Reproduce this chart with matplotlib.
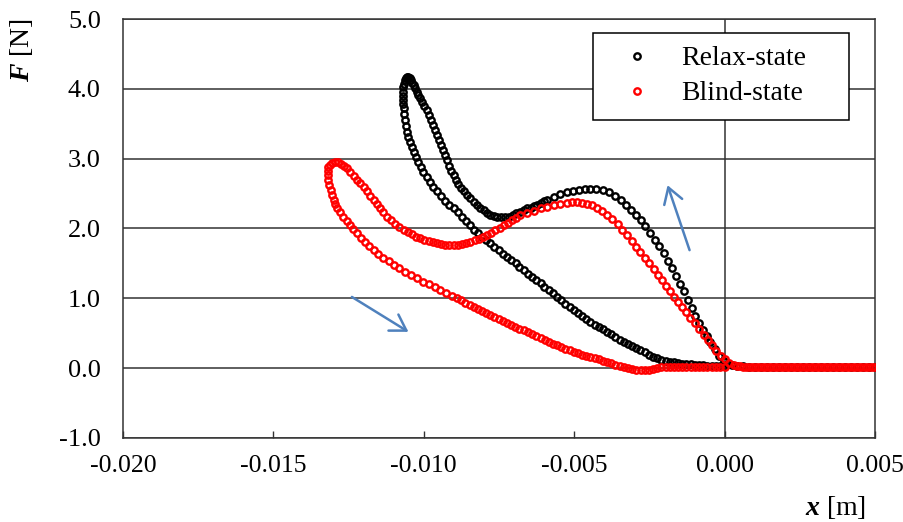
import numpy as np
import matplotlib
matplotlib.use("Agg")
import matplotlib.pyplot as plt
from matplotlib.ticker import FormatStrFormatter

plt.rcParams['font.family'] = ['Liberation Serif', 'DejaVu Serif']
plt.rcParams['axes.unicode_minus'] = False
plt.rcParams['mathtext.fontset'] = 'custom'
plt.rcParams['mathtext.it'] = 'Liberation Serif:italic:bold'
plt.rcParams['mathtext.rm'] = 'Liberation Serif'

# force-displacement loops, x in mm, F in N (path order)
relax_pts = [
    (5.0, 0.02), (4.8, 0.02), (4.6, 0.02), (4.4, 0.02), (4.2, 0.02), (4.0, 0.02),
    (3.8, 0.02), (3.6, 0.02), (3.4, 0.02), (3.2, 0.02), (3.0, 0.02), (2.8, 0.02),
    (2.6, 0.02), (2.4, 0.02), (2.2, 0.02), (2.0, 0.02), (1.8, 0.02), (1.6, 0.02),
    (1.4, 0.02), (1.2, 0.02), (1.0, 0.02), (0.8, 0.02), (0.6, 0.025), (0.4, 0.03),
    (0.25, 0.05), (0.1, 0.065), (-0.03, 0.1), (-0.18, 0.18), (-0.33, 0.27),
    (-0.47, 0.37), (-0.60, 0.46), (-0.73, 0.55), (-0.86, 0.65), (-0.98, 0.75),
    (-1.10, 0.86), (-1.22, 0.98), (-1.35, 1.10), (-1.48, 1.21), (-1.61, 1.32),
    (-1.75, 1.43), (-1.89, 1.54), (-2.03, 1.65), (-2.18, 1.75), (-2.33, 1.84),
    (-2.48, 1.94), (-2.63, 2.03), (-2.78, 2.12), (-2.94, 2.20), (-3.10, 2.27),
    (-3.27, 2.34), (-3.45, 2.41), (-3.64, 2.47), (-3.84, 2.52), (-4.05, 2.55),
    (-4.26, 2.56), (-4.46, 2.565), (-4.65, 2.56), (-4.85, 2.55),
    (-5.04, 2.535), (-5.24, 2.52), (-5.46, 2.49), (-5.68, 2.45), (-5.90, 2.41),
    (-6.00, 2.39), (-6.12, 2.36), (-6.23, 2.34), (-6.34, 2.32), (-6.45, 2.30),
    (-6.57, 2.29), (-6.68, 2.265), (-6.80, 2.24), (-6.92, 2.215), (-7.05, 2.19),
    (-7.17, 2.17), (-7.29, 2.16), (-7.42, 2.16), (-7.55, 2.17), (-7.67, 2.18),
    (-7.79, 2.19), (-7.90, 2.22), (-8.01, 2.26), (-8.12, 2.30), (-8.23, 2.335),
    (-8.34, 2.38), (-8.45, 2.43), (-8.56, 2.48), (-8.68, 2.53), (-8.77, 2.58),
    (-8.85, 2.64), (-8.93, 2.70), (-9.01, 2.765), (-9.08, 2.83), (-9.15, 2.90),
    (-9.22, 2.975), (-9.29, 3.05), (-9.36, 3.12), (-9.42, 3.19), (-9.49, 3.265),
    (-9.56, 3.34), (-9.63, 3.41), (-9.70, 3.48), (-9.77, 3.55), (-9.84, 3.625),
    (-9.91, 3.69), (-9.98, 3.75), (-10.05, 3.81), (-10.12, 3.864), (-10.18, 3.91),
    (-10.23, 3.96), (-10.29, 4.01), (-10.34, 4.054), (-10.39, 4.09), (-10.43, 4.12),
    (-10.47, 4.15), (-10.51, 4.17), (-10.55, 4.17), (-10.59, 4.15), (-10.63, 4.12),
    (-10.66, 4.07), (-10.68, 4.02), (-10.69, 3.96), (-10.70, 3.90), (-10.69, 3.84),
    (-10.68, 3.78), (-10.67, 3.72), (-10.65, 3.64), (-10.63, 3.55), (-10.60, 3.47),
    (-10.56, 3.385), (-10.51, 3.31), (-10.46, 3.24), (-10.40, 3.17), (-10.34, 3.10),
    (-10.26, 3.02), (-10.18, 2.95), (-10.10, 2.88), (-10.01, 2.81), (-9.90, 2.74),
    (-9.79, 2.67), (-9.68, 2.60), (-9.56, 2.53), (-9.43, 2.46), (-9.29, 2.40),
    (-9.15, 2.34), (-9.01, 2.29), (-8.87, 2.23), (-8.73, 2.17), (-8.59, 2.11),
    (-8.45, 2.05), (-8.34, 1.98), (-8.20, 1.93), (-8.06, 1.88), (-7.92, 1.835),
    (-7.79, 1.787), (-7.65, 1.74), (-7.51, 1.69), (-7.37, 1.64), (-7.23, 1.595),
    (-7.09, 1.55), (-6.95, 1.50), (-6.82, 1.45), (-6.68, 1.404), (-6.54, 1.355),
    (-6.40, 1.31), (-6.26, 1.26), (-6.12, 1.213), (-5.99, 1.165), (-5.85, 1.12),
    (-5.71, 1.07), (-5.57, 1.021), (-5.43, 0.975), (-5.29, 0.925), (-5.15, 0.88),
    (-5.02, 0.831), (-4.88, 0.79), (-4.74, 0.745), (-4.60, 0.70), (-4.46, 0.663),
    (-4.32, 0.625), (-4.18, 0.59), (-4.04, 0.555), (-3.90, 0.52), (-3.77, 0.485),
    (-3.63, 0.45), (-3.49, 0.41), (-3.35, 0.377), (-3.21, 0.345), (-3.07, 0.315),
    (-2.93, 0.285), (-2.80, 0.258), (-2.66, 0.225), (-2.52, 0.195), (-2.38, 0.165),
    (-2.24, 0.139), (-2.10, 0.12), (-1.96, 0.105), (-1.82, 0.092), (-1.69, 0.082),
    (-1.55, 0.073), (-1.41, 0.066), (-1.27, 0.061), (-1.13, 0.057), (-0.99, 0.052),
    (-0.85, 0.047), (-0.71, 0.042), (-0.57, 0.037), (-0.43, 0.033), (-0.28, 0.03),
    (-0.14, 0.027), (0.0, 0.025),
]

blind_pts = [
    (5.0, 0.02), (4.9, 0.02), (4.8, 0.02), (4.7, 0.02), (4.6, 0.02), (4.5, 0.02),
    (4.4, 0.02), (4.3, 0.02), (4.2, 0.02), (4.1, 0.02), (4.0, 0.02), (3.9, 0.02),
    (3.8, 0.02), (3.7, 0.02), (3.6, 0.02), (3.5, 0.02), (3.4, 0.02), (3.3, 0.02),
    (3.2, 0.02), (3.1, 0.02), (3.0, 0.02), (2.9, 0.02), (2.8, 0.02), (2.7, 0.02),
    (2.6, 0.02), (2.5, 0.02), (2.4, 0.02), (2.3, 0.02), (2.2, 0.02), (2.1, 0.02),
    (2.0, 0.02), (1.9, 0.02), (1.8, 0.02), (1.7, 0.02), (1.6, 0.02), (1.5, 0.02),
    (1.4, 0.02), (1.3, 0.02), (1.2, 0.02), (1.1, 0.02), (1.0, 0.02), (0.9, 0.02),
    (0.8, 0.02), (0.7, 0.02), (0.6, 0.02), (0.5, 0.025), (0.4, 0.03), (0.3, 0.04),
    (0.15, 0.08), (0.0, 0.13), (-0.13, 0.17), (-0.27, 0.25), (-0.41, 0.33),
    (-0.55, 0.41), (-0.70, 0.48), (-0.85, 0.56), (-1.00, 0.64), (-1.14, 0.72),
    (-1.28, 0.80), (-1.42, 0.88), (-1.55, 0.95), (-1.68, 1.02), (-1.81, 1.10),
    (-1.94, 1.18), (-2.08, 1.26), (-2.22, 1.34), (-2.36, 1.42), (-2.51, 1.50),
    (-2.65, 1.58), (-2.80, 1.66), (-2.94, 1.74), (-3.09, 1.82), (-3.24, 1.90),
    (-3.40, 1.98), (-3.56, 2.06), (-3.73, 2.13), (-3.90, 2.19), (-4.07, 2.25),
    (-4.24, 2.30), (-4.41, 2.335), (-4.57, 2.355), (-4.74, 2.37), (-4.90, 2.375),
    (-5.07, 2.375), (-5.24, 2.37), (-5.46, 2.355), (-5.68, 2.335), (-5.90, 2.31),
    (-6.12, 2.29), (-6.34, 2.25), (-6.57, 2.22), (-6.79, 2.19), (-6.93, 2.155),
    (-7.07, 2.12), (-7.21, 2.085), (-7.34, 2.05), (-7.48, 2.01), (-7.62, 1.975),
    (-7.76, 1.94), (-7.90, 1.905), (-8.04, 1.875), (-8.17, 1.85), (-8.31, 1.83),
    (-8.45, 1.81), (-8.59, 1.795), (-8.73, 1.78), (-8.87, 1.77), (-9.01, 1.762),
    (-9.15, 1.765), (-9.28, 1.77), (-9.42, 1.78), (-9.56, 1.787), (-9.70, 1.80),
    (-9.84, 1.82), (-9.98, 1.84), (-10.12, 1.858), (-10.26, 1.885), (-10.40, 1.915),
    (-10.53, 1.945), (-10.67, 1.977), (-10.81, 2.02), (-10.95, 2.07), (-11.09, 2.12),
    (-11.23, 2.168), (-11.34, 2.23), (-11.45, 2.29), (-11.56, 2.35), (-11.67, 2.407),
    (-11.78, 2.47), (-11.89, 2.53), (-12.00, 2.59), (-12.11, 2.646), (-12.22, 2.70),
    (-12.33, 2.755), (-12.45, 2.81), (-12.56, 2.861), (-12.66, 2.90), (-12.75, 2.93),
    (-12.85, 2.95), (-12.95, 2.956), (-13.05, 2.94), (-13.12, 2.91), (-13.17, 2.88),
    (-13.19, 2.83), (-13.19, 2.76), (-13.17, 2.69), (-13.14, 2.62), (-13.10, 2.55),
    (-13.06, 2.48), (-13.00, 2.41), (-12.94, 2.35), (-12.87, 2.29), (-12.79, 2.23),
    (-12.67, 2.168), (-12.56, 2.11), (-12.45, 2.05), (-12.34, 1.99), (-12.22, 1.93),
    (-12.08, 1.87), (-11.95, 1.81), (-11.81, 1.75), (-11.67, 1.69), (-11.51, 1.64),
    (-11.34, 1.58), (-11.17, 1.53), (-11.00, 1.476), (-10.81, 1.43), (-10.62, 1.38),
    (-10.42, 1.33), (-10.23, 1.285), (-10.03, 1.24), (-9.84, 1.20), (-9.64, 1.16),
    (-9.45, 1.117), (-9.26, 1.075), (-9.07, 1.035), (-8.90, 1.00), (-8.76, 0.97),
    (-8.62, 0.94), (-8.48, 0.91), (-8.34, 0.878), (-8.20, 0.85), (-8.06, 0.82),
    (-7.93, 0.79), (-7.79, 0.759), (-7.65, 0.73), (-7.51, 0.70), (-7.37, 0.67),
    (-7.23, 0.64), (-7.09, 0.615), (-6.96, 0.59), (-6.82, 0.565), (-6.68, 0.544),
    (-6.54, 0.515), (-6.40, 0.485), (-6.26, 0.455), (-6.12, 0.425), (-5.98, 0.40),
    (-5.85, 0.375), (-5.71, 0.35), (-5.57, 0.33), (-5.43, 0.305), (-5.29, 0.28),
    (-5.15, 0.255), (-5.02, 0.234), (-4.88, 0.215), (-4.74, 0.195), (-4.60, 0.18),
    (-4.46, 0.162), (-4.32, 0.145), (-4.18, 0.125), (-4.04, 0.108), (-3.90, 0.09),
    (-3.77, 0.07), (-3.63, 0.05), (-3.49, 0.035), (-3.35, 0.019), (-3.21, 0.005),
    (-3.07, -0.01), (-2.93, -0.025), (-2.79, -0.03), (-2.65, -0.03), (-2.51, -0.025),
    (-2.38, -0.01), (-2.24, 0.0), (-2.10, 0.01), (-1.96, 0.015), (-1.82, 0.018),
    (-1.69, 0.02), (-1.55, 0.02), (-1.41, 0.02), (-1.27, 0.02), (-1.13, 0.02),
    (-0.99, 0.02), (-0.85, 0.02), (-0.71, 0.02), (-0.57, 0.02), (-0.43, 0.02),
    (-0.28, 0.02), (-0.14, 0.02), (0.0, 0.02),
]

series_labels = ['Relax-state', 'Blind-state']
series_colors = ['black', 'red']
x_ticks = [-0.020, -0.015, -0.010, -0.005, 0.000, 0.005]
y_ticks = [-1.0, 0.0, 1.0, 2.0, 3.0, 4.0, 5.0]

relax_x, relax_f = np.array(relax_pts).T
blind_x, blind_f = np.array(blind_pts).T
relax_x = relax_x * 1e-3
blind_x = blind_x * 1e-3

axis_col = '#333333'
arrow_col = '#4f81bd'

fig = plt.figure(figsize=(9.04, 5.22), dpi=100)
ax = fig.add_axes([123 / 904, 1 - 438 / 522, 752 / 904, 419 / 522])

for xs, fs, lab, col in zip([relax_x, blind_x], [relax_f, blind_f], series_labels, series_colors):
    ax.plot(xs, fs, linestyle='none', marker='o', markersize=4.6, markerfacecolor='none',
            markeredgecolor=col, markeredgewidth=1.7, label=lab, zorder=3)

ax.set_xlim(x_ticks[0], x_ticks[-1])
ax.set_ylim(y_ticks[0], y_ticks[-1])
ax.set_xticks(x_ticks)
ax.set_yticks(y_ticks)
ax.xaxis.set_major_formatter(FormatStrFormatter('%.3f'))
ax.yaxis.set_major_formatter(FormatStrFormatter('%.1f'))

ax.set_axisbelow(True)
ax.yaxis.grid(True, color=axis_col, linewidth=1.1)
ax.axvline(0.0, color=axis_col, linewidth=1.1, zorder=1)
for sp in ax.spines.values():
    sp.set_color(axis_col)
    sp.set_linewidth(1.1)

ax.tick_params(axis='x', direction='in', length=5, width=1.0, color=axis_col,
               pad=12, labelsize=18.5)
ax.tick_params(axis='y', length=0, pad=16, labelsize=19)

# direction arrows
ax.annotate('', xy=(-0.001897, 2.62), xytext=(-0.001165, 1.69),
            arrowprops=dict(arrowstyle='->,head_length=1.1,head_width=0.68',
                            color=arrow_col, lw=1.8, mutation_scale=10,
                            shrinkA=0, shrinkB=0))
ax.annotate('', xy=(-0.01051, 0.52), xytext=(-0.01239, 1.02),
            arrowprops=dict(arrowstyle='->,head_length=1.1,head_width=0.68',
                            color=arrow_col, lw=1.8, mutation_scale=10,
                            shrinkA=0, shrinkB=0))

leg = ax.legend(loc='upper left', bbox_to_anchor=(0.625, 0.5, 0.340, 0.467),
                mode='expand', fontsize=20, frameon=True, fancybox=False,
                framealpha=1, edgecolor='black', handletextpad=0.45,
                borderpad=0.47, labelspacing=0.35, handlelength=2.25,
                borderaxespad=0)
leg.get_frame().set_linewidth(1.1)

fig.text(0.024, 0.905, r'$F$ [N]', rotation=90, fontsize=20, ha='center', va='center')
fig.text(0.924, 0.027, r'$x$ [m]', fontsize=20, ha='center', va='center')

fig.savefig('out.png', dpi=100)
